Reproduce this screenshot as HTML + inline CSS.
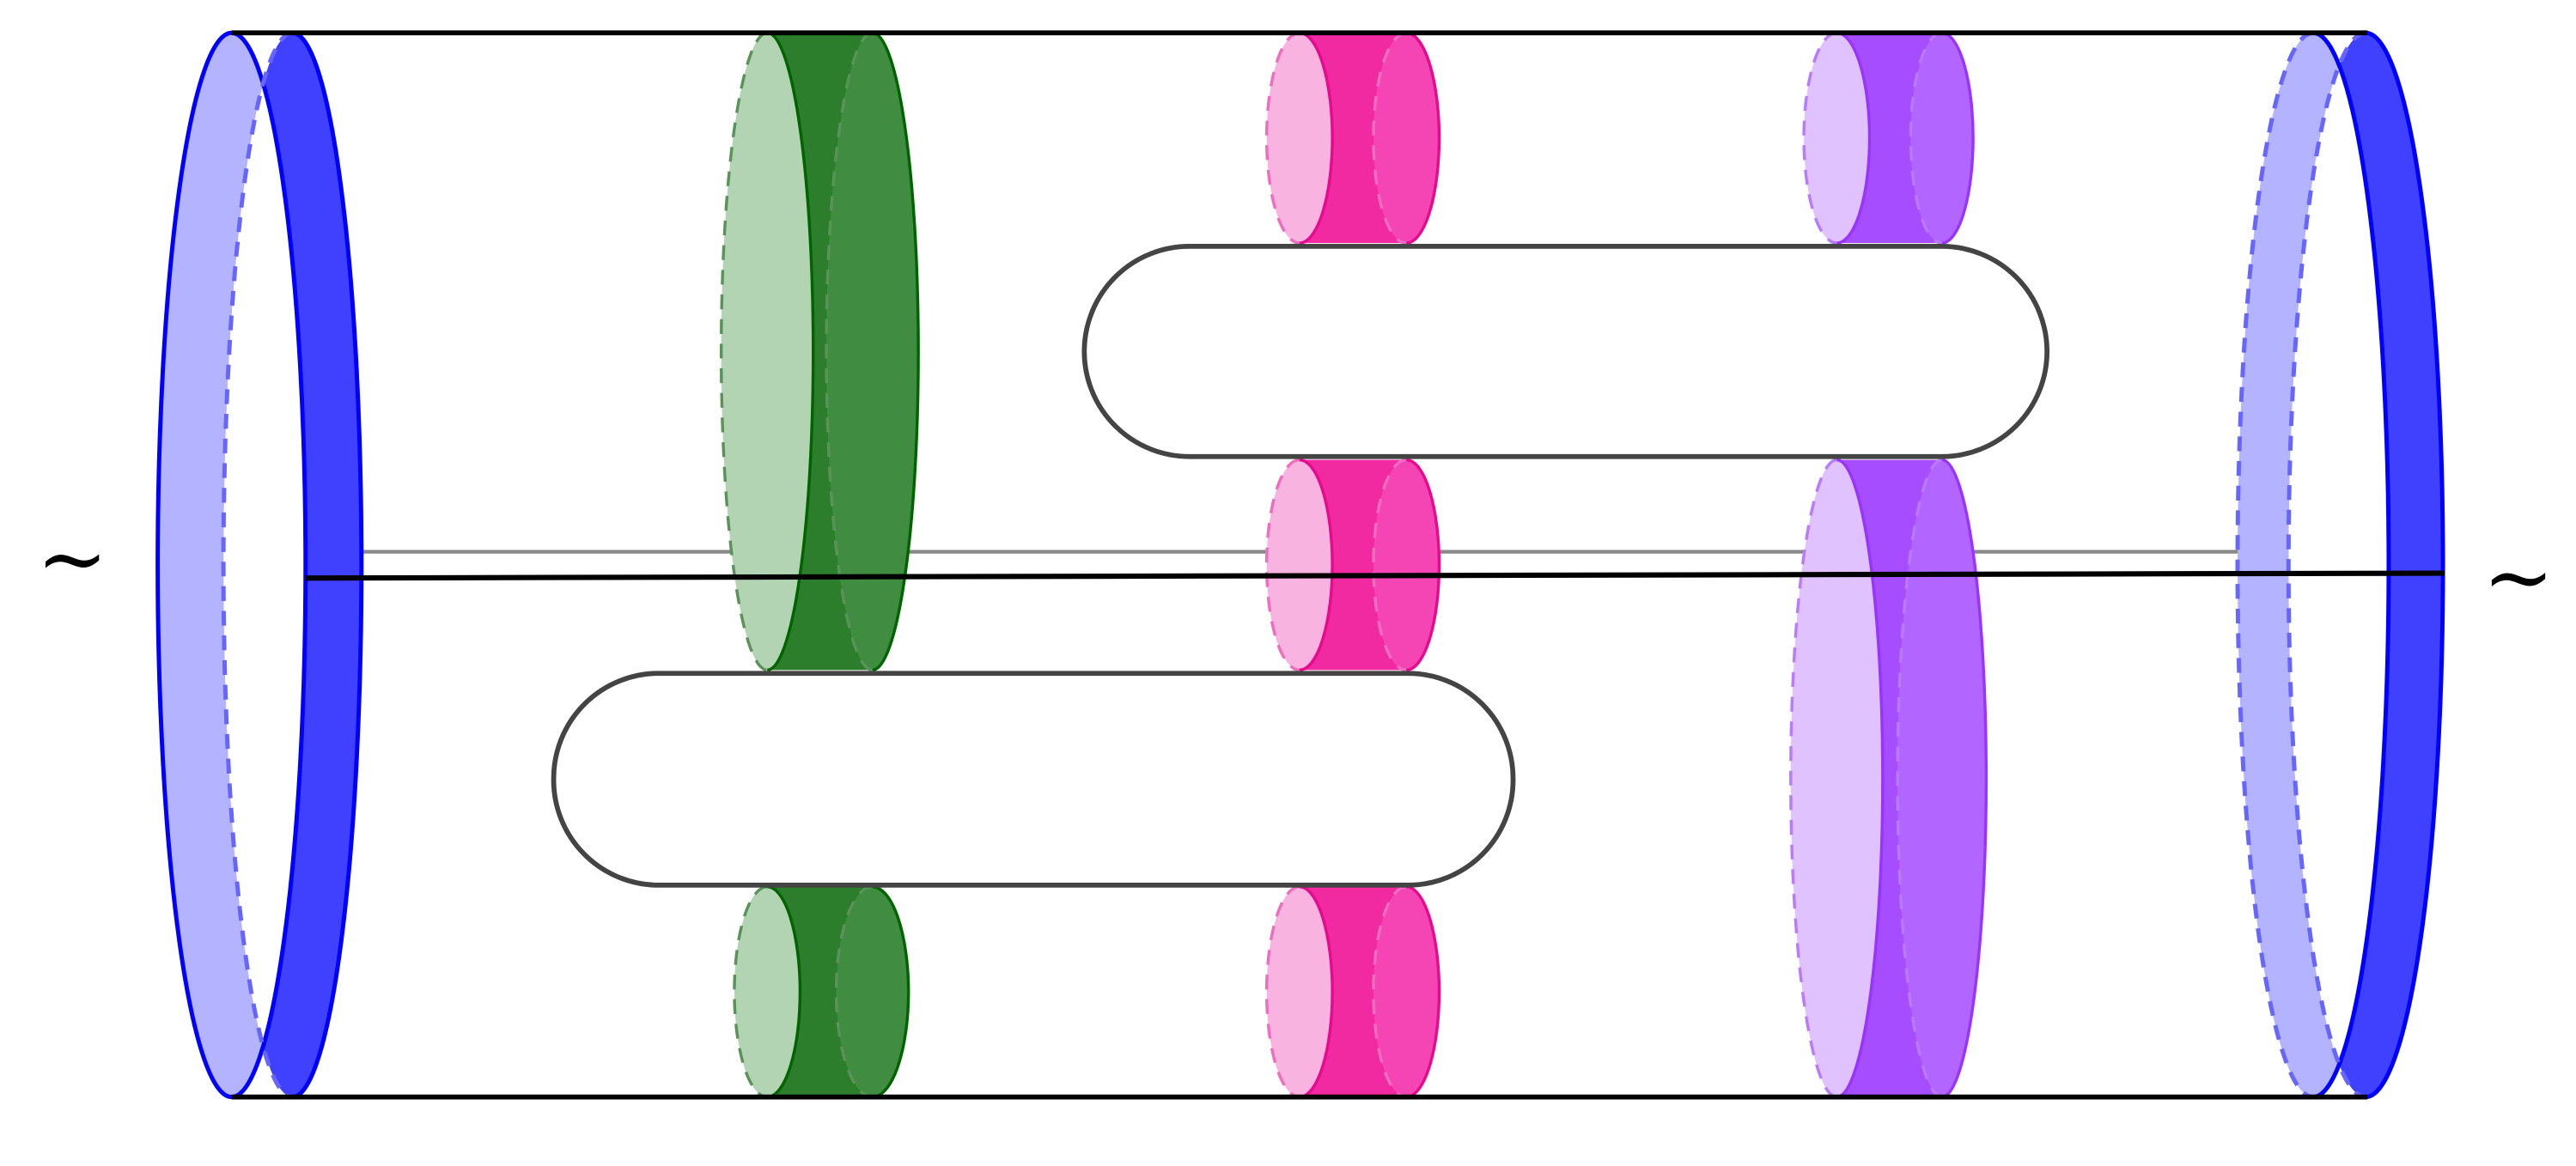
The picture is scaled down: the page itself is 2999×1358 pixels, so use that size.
<!DOCTYPE html>
<html><head><meta charset="utf-8"><style>
html,body{margin:0;padding:0;background:#fff;}
svg{display:block;}
</style></head><body>
<svg id="fig" width="2999" height="1358" viewBox="0 0 1568 710" xmlns="http://www.w3.org/2000/svg">
<defs>
<clipPath id="clipA0"><ellipse cx="141" cy="344" rx="45" ry="324"/></clipPath>
<clipPath id="clipA8"><ellipse cx="1408" cy="344" rx="46" ry="324"/></clipPath>
</defs>
<g id="base">
<line x1="96" y1="336" x2="1396" y2="336" stroke="#888" stroke-width="2.2"/>
</g>
<g id="cyls"></g>
<line x1="141" y1="20" x2="1441" y2="20" stroke="#000" stroke-width="3"/>
<line x1="141" y1="668" x2="1441" y2="668" stroke="#000" stroke-width="3"/>
<line x1="186" y1="352" x2="1488" y2="349" stroke="#000" stroke-width="3.2"/>
<rect x="660" y="150" width="586" height="128" rx="64" ry="64" fill="#fff" stroke="#444" stroke-width="3"/>
<rect x="337" y="410" width="584" height="129" rx="64" ry="64" fill="#fff" stroke="#444" stroke-width="3"/>
<text x="44" y="358" font-family="DejaVu Serif, serif" font-size="52" text-anchor="middle">~</text>
<text x="1533" y="369" font-family="DejaVu Serif, serif" font-size="52" text-anchor="middle">~</text>
</svg>
<script>
const cylNames = ['blue-left','green-top','green-bottom','pink-top','pink-middle','pink-bottom','purple-top','purple-bottom','blue-right'];
const cylA = [[141,45],[467,28],[467,20],[791,20],[791,20],[791,20],[1118,20],[1118,28],[1408,46]];
const cylB = [[178,42],[531,28],[531,22],[856,20],[856,20],[856,20],[1182,19],[1182,27],[1440,47]];
const cylY = [[20,668],[20,408],[540,668],[20,148],[280,408],[540,668],[20,148],[280,668],[20,668]];
const cylPal = ['blue','green','green','pink','pink','pink','purple','purple','blue'];
const cylRing = [true,false,false,false,false,false,false,false,true];
const cylDashA = [false,true,true,true,true,true,true,true,true];
const pal = {
  blue:{light:'#b3b3ff',band:'#3030ff',face:'#4040ff',stroke:'#0000ff',dash:'#6666ff'},
  green:{light:'#b3d4b3',band:'#2c7d2c',face:'#408c40',stroke:'#006400',dash:'#5a935a'},
  pink:{light:'#f9b3e0',band:'#f22aa2',face:'#f545b5',stroke:'#e60a8f',dash:'#f06cbf'},
  purple:{light:'#dfc2ff',band:'#a64dff',face:'#b366ff',stroke:'#9933ff',dash:'#b87aff'}
};
const NS='http://www.w3.org/2000/svg';
const g=document.getElementById('cyls');
function el(t,a){const e=document.createElementNS(NS,t);for(const k in a)e.setAttribute(k,a[k]);return e;}
function arc(cx,rx,cy,ry,side){const s=side>0?1:0;return `M${cx},${cy-ry} A${rx},${ry} 0 0 ${s} ${cx},${cy+ry}`;}
cylNames.forEach((n,i)=>{
  const [ax,arx]=cylA[i],[bx,brx]=cylB[i],[t,b]=cylY[i];const p=pal[cylPal[i]];
  const cy=(t+b)/2,ry=(b-t)/2;
  const sw=cylRing[i]?2.6:1.8;
  const grp=el('g',{});
  
  
  if(cylRing[i]){
    grp.appendChild(el('ellipse',{cx:ax,cy:cy,rx:arx,ry:ry,fill:p.light}));
    grp.appendChild(el('ellipse',{cx:bx,cy:cy,rx:brx,ry:ry,fill:p.face}));
    grp.appendChild(el('ellipse',{cx:bx,cy:cy,rx:brx,ry:ry,fill:'#fff','clip-path':'url(#clipA'+i+')'}));
  } else {
    grp.appendChild(el('rect',{x:ax,y:t,width:bx-ax,height:b-t,fill:p.band}));
    grp.appendChild(el('ellipse',{cx:ax,cy:cy,rx:arx,ry:ry,fill:p.light}));
    grp.appendChild(el('ellipse',{cx:bx,cy:cy,rx:brx,ry:ry,fill:p.face}));
  }
  grp.appendChild(el('path',{d:arc(ax,arx,cy,ry,-1),fill:'none',stroke:cylDashA[i]?p.dash:p.stroke,'stroke-width':sw,'stroke-dasharray':cylDashA[i]?'9,6':'none'}));
  grp.appendChild(el('path',{d:arc(ax,arx,cy,ry,1),fill:'none',stroke:p.stroke,'stroke-width':sw}));
  grp.appendChild(el('path',{d:arc(bx,brx,cy,ry,-1),fill:'none',stroke:p.dash,'stroke-width':sw,'stroke-dasharray':'9,6'}));
  grp.appendChild(el('path',{d:arc(bx,brx,cy,ry,1),fill:'none',stroke:p.stroke,'stroke-width':sw}));
  g.appendChild(grp);
});
</script>
</body></html>
